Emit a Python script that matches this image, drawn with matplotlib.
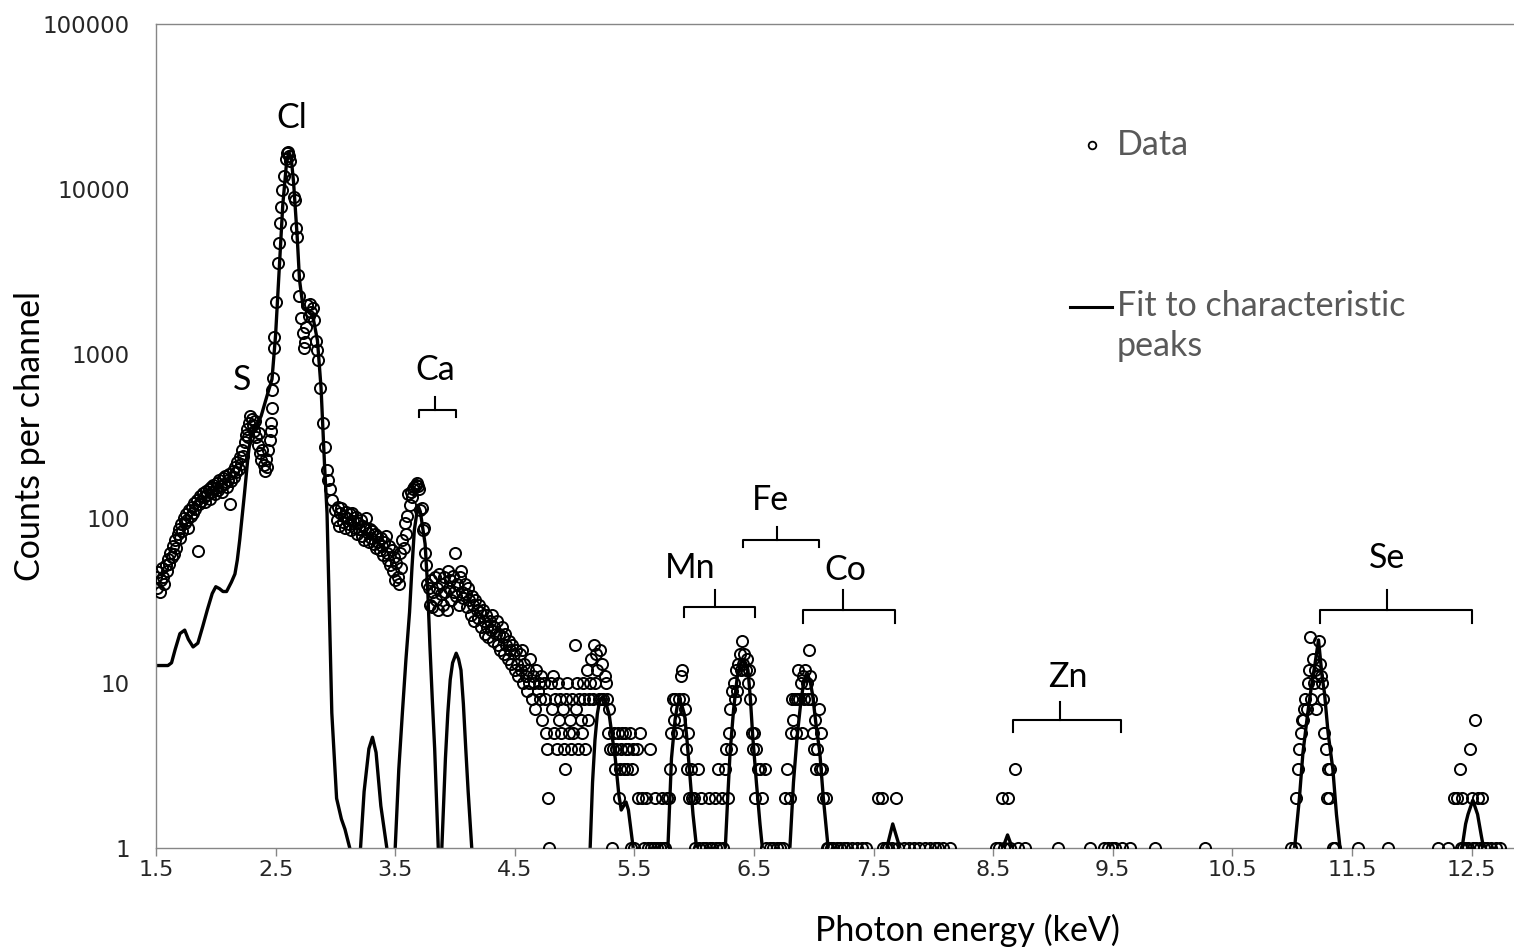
import numpy as np
import matplotlib.pyplot as plt
import matplotlib.transforms as mtransforms

# ---- measured spectrum (open circles) ----
# low-energy background + S peak, 10 eV channels
e_low = [1.50, 1.51, 1.52, 1.53, 1.54, 1.55, 1.56, 1.57, 1.58, 1.59,
         1.60, 1.61, 1.62, 1.63, 1.64, 1.65, 1.66, 1.67, 1.68, 1.69,
         1.70, 1.71, 1.72, 1.73, 1.74, 1.75, 1.76, 1.77, 1.78, 1.79,
         1.80, 1.81, 1.82, 1.83, 1.84, 1.85, 1.86, 1.87, 1.88, 1.89,
         1.90, 1.91, 1.92, 1.93, 1.94, 1.95, 1.96, 1.97, 1.98, 1.99,
         2.00, 2.01, 2.02, 2.03, 2.04, 2.05, 2.06, 2.07, 2.08, 2.09,
         2.10, 2.11, 2.12, 2.13, 2.14, 2.15, 2.16, 2.17, 2.18, 2.19,
         2.20, 2.21, 2.22, 2.23, 2.24, 2.25, 2.26, 2.27, 2.28, 2.29,
         2.30, 2.31, 2.32, 2.33, 2.34, 2.35, 2.36, 2.37, 2.38, 2.39,
         2.40, 2.41, 2.42, 2.43, 2.44]
c_low = [44, 38, 47, 36, 42, 50, 44, 40, 52, 48,
         57, 53, 62, 58, 68, 61, 74, 66, 80, 86,
         76, 92, 84, 100, 94, 106, 98, 88, 112, 104,
         118, 108, 124, 114, 130, 63, 122, 136, 128, 142,
         134, 126, 146, 138, 150, 132, 155, 144, 160, 140,
         152, 165, 148, 170, 158, 145, 175, 162, 180, 155,
         170, 185, 122, 168, 195, 178, 205, 190, 220, 200,
         235, 215, 260, 240, 290, 320, 350, 310, 380, 420,
         400, 370, 340, 390, 310, 280, 330, 250, 225, 260,
         210, 195, 230, 205, 260]

# Cl peak and its shoulder
e_cl = [2.452, 2.458, 2.464, 2.468, 2.472, 2.476, 2.486, 2.490, 2.506, 2.522,
        2.530, 2.540, 2.548, 2.556, 2.572, 2.586, 2.596, 2.604, 2.612, 2.620,
        2.636, 2.652, 2.662, 2.670, 2.678, 2.688, 2.698, 2.712, 2.726, 2.738,
        2.746, 2.756, 2.766, 2.776, 2.790, 2.800, 2.812, 2.822, 2.834, 2.846,
        2.858, 2.874, 2.900, 2.916, 2.930, 2.942, 2.956, 2.968]
c_cl = [300, 340, 380, 470, 600, 710, 1080, 1260, 2050, 3570,
        4700, 6200, 7800, 9900, 12000, 15200, 16400, 16800, 15800, 14800,
        11500, 8900, 8600, 5800, 5100, 3000, 2250, 1640, 1330, 1080,
        1170, 1450, 1970, 1680, 2000, 1790, 1880, 1600, 1200, 1050,
        910, 620, 380, 270, 196, 170, 150, 130]

# background between Cl and Ca
e_mid = [3.00, 3.01, 3.02, 3.03, 3.04, 3.05, 3.06, 3.07, 3.08, 3.09,
         3.10, 3.11, 3.12, 3.13, 3.14, 3.15, 3.16, 3.17, 3.18, 3.19,
         3.20, 3.21, 3.22, 3.23, 3.24, 3.25, 3.26, 3.27, 3.28, 3.29,
         3.30, 3.31, 3.32, 3.33, 3.34, 3.35, 3.36, 3.37, 3.38, 3.39,
         3.40, 3.41, 3.42, 3.43, 3.44, 3.45, 3.46, 3.47, 3.48, 3.49,
         3.50, 3.51, 3.52, 3.53, 3.54, 3.55]
c_mid = [112, 98, 118, 90, 108, 115, 95, 104, 88, 110,
         100, 92, 106, 85, 108, 96, 88, 102, 80, 94,
         86, 98, 78, 90, 74, 88, 100, 82, 72, 86,
         76, 84, 70, 80, 66, 78, 72, 64, 76, 68,
         60, 72, 78, 62, 56, 68, 52, 64, 48, 58,
         42, 54, 44, 40, 62, 50]

# Ca peak
e_ca = [3.56, 3.57, 3.58, 3.59, 3.60, 3.61, 3.62, 3.63, 3.64, 3.65,
        3.66, 3.67, 3.68, 3.69, 3.70, 3.71, 3.72, 3.73, 3.74, 3.75,
        3.76, 3.77, 3.78]
c_ca = [74, 66, 94, 80, 103, 141, 120, 145, 135, 150,
        155, 160, 163, 158, 150, 112, 115, 85, 88, 62,
        52, 40, 38]

# falling background after Ca
e_tail = [3.79, 3.80, 3.81, 3.82, 3.83, 3.84, 3.85, 3.86, 3.87, 3.88,
          3.89, 3.90, 3.91, 3.92, 3.93, 3.94, 3.95, 3.96, 3.97, 3.98,
          3.99, 4.00, 4.01, 4.02, 4.03, 4.04, 4.05, 4.06, 4.07, 4.08,
          4.09, 4.10, 4.11, 4.12, 4.13, 4.14, 4.15, 4.16, 4.17, 4.18,
          4.19, 4.20, 4.21, 4.22, 4.23, 4.24, 4.25, 4.26, 4.27, 4.28,
          4.29, 4.30, 4.31, 4.32, 4.33, 4.34, 4.35, 4.36, 4.37, 4.38,
          4.39, 4.40, 4.41, 4.42, 4.43, 4.44, 4.45, 4.46, 4.47, 4.48,
          4.49, 4.50]
c_tail = [30, 42, 29, 36, 44, 32, 38, 28, 46, 35,
          40, 30, 44, 36, 28, 48, 38, 42, 32, 45,
          36, 62, 34, 40, 30, 44, 48, 36, 33, 40,
          35, 29, 38, 32, 26, 34, 30, 24, 32, 28,
          25, 30, 27, 22, 28, 24, 20, 26, 22, 19,
          24, 21, 26, 18, 22, 20, 24, 17, 20, 16,
          22, 19, 15, 20, 17, 14, 18, 16, 13, 17,
          15, 12]

# low counts 4.5 - 5.3 keV
e_ti = [4.51, 4.52, 4.53, 4.54, 4.55, 4.56, 4.57, 4.58, 4.59, 4.60,
        4.61, 4.62, 4.63, 4.64, 4.65, 4.66, 4.67, 4.68, 4.69, 4.70,
        4.71, 4.72, 4.73, 4.74, 4.75, 4.76, 4.77, 4.78, 4.79, 4.80,
        4.81, 4.82, 4.83, 4.84, 4.85, 4.86, 4.87, 4.88, 4.89, 4.90,
        4.91, 4.92, 4.93, 4.94, 4.95, 4.96, 4.97, 4.98, 4.99, 5.00,
        5.01, 5.02, 5.03, 5.04, 5.05, 5.06, 5.07, 5.08, 5.09, 5.10,
        5.11, 5.12, 5.13, 5.14, 5.15, 5.16, 5.17, 5.18, 5.19, 5.20,
        5.21, 5.22, 5.23, 5.24, 5.25, 5.26, 5.27, 5.28, 5.29, 5.30]
c_ti = [16, 13, 11, 15, 12, 16, 10, 13, 11, 9,
        12, 10, 14, 8, 11, 10, 7, 12, 9, 10,
        8, 11, 6, 10, 8, 5, 4, 2, 1, 10,
        7, 11, 5, 8, 4, 10, 6, 8, 5, 7,
        4, 3, 8, 10, 5, 6, 4, 8, 5, 17,
        7, 10, 4, 8, 6, 5, 10, 8, 4, 12,
        6, 8, 10, 14, 8, 17, 10, 15, 12, 8,
        16, 8, 13, 8, 11, 10, 8, 5, 7, 4]

# Mn, Fe, Co region
e_tm = [5.31, 5.32, 5.33, 5.34, 5.35, 5.36, 5.37, 5.38, 5.39, 5.40,
        5.41, 5.42, 5.43, 5.44, 5.45, 5.46, 5.47, 5.48, 5.49, 5.50,
        5.52, 5.53, 5.55, 5.56, 5.58, 5.60, 5.61, 5.63, 5.64, 5.66,
        5.67, 5.69, 5.71, 5.73, 5.74, 5.76, 5.77,
        5.79, 5.80, 5.81, 5.82, 5.83, 5.84, 5.85, 5.86, 5.87, 5.88,
        5.89, 5.90, 5.91, 5.92, 5.93, 5.94, 5.95, 5.96, 5.97, 5.98,
        6.00, 6.01, 6.03, 6.04, 6.06, 6.07, 6.10, 6.12, 6.13, 6.15,
        6.17, 6.18, 6.20, 6.21, 6.23, 6.24, 6.26,
        6.27, 6.28, 6.29, 6.30, 6.31, 6.32, 6.33, 6.34, 6.35, 6.36,
        6.37, 6.38, 6.39, 6.40, 6.41, 6.42, 6.43, 6.44, 6.45, 6.46,
        6.47, 6.48, 6.49, 6.50, 6.51, 6.52, 6.53, 6.55, 6.57, 6.59,
        6.60, 6.63, 6.66, 6.69, 6.72, 6.74, 6.76, 6.78, 6.80,
        6.81, 6.82, 6.83, 6.84, 6.85, 6.86, 6.87, 6.88, 6.89, 6.90,
        6.91, 6.92, 6.93, 6.94, 6.95, 6.96, 6.97, 6.98, 6.99, 7.00,
        7.01, 7.02, 7.03, 7.04, 7.05, 7.06, 7.07, 7.08, 7.10, 7.11]
c_tm = [1, 4, 5, 3, 4, 5, 2, 3, 4, 5,
        3, 5, 4, 3, 4, 5, 1, 3, 4, 1,
        4, 2, 5, 2, 1, 2, 1, 4, 1, 1,
        2, 1, 1, 2, 1, 1, 2,
        2, 3, 5, 8, 6, 8, 7, 5, 8, 6,
        11, 12, 8, 7, 4, 3, 5, 2, 3, 2,
        2, 1, 3, 1, 2, 1, 1, 2, 1, 1,
        2, 1, 3, 1, 2, 1, 3,
        4, 2, 5, 7, 4, 9, 10, 8, 12, 9,
        13, 15, 12, 18, 13, 15, 12, 14, 10, 12,
        8, 5, 4, 5, 2, 4, 3, 3, 2, 3,
        1, 1, 1, 1, 1, 1, 2, 3, 2,
        5, 8, 6, 8, 5, 8, 12, 8, 10, 5,
        11, 8, 12, 10, 8, 16, 11, 8, 5, 4,
        6, 3, 4, 7, 3, 5, 3, 2, 2, 1]

# sparse high-energy channels (Zn, Se)
e_hi = [7.12, 7.14, 7.16, 7.19, 7.22, 7.25, 7.28, 7.32, 7.36, 7.40, 7.44,
        7.54, 7.57, 7.58, 7.60, 7.62, 7.65, 7.69, 7.70, 7.75, 7.80,
        7.84, 7.88, 7.93, 7.97, 8.01, 8.04, 8.08, 8.14,
        8.52, 8.55, 8.57, 8.59, 8.62, 8.64, 8.68, 8.71, 8.77, 9.04,
        9.31, 9.43, 9.46, 9.49, 9.52, 9.58, 9.64, 9.85, 10.27,
        10.99, 11.02, 11.03, 11.05, 11.06, 11.07, 11.08, 11.09, 11.10, 11.11,
        11.12, 11.13, 11.14, 11.15, 11.16, 11.17, 11.18, 11.19, 11.20, 11.21,
        11.22, 11.23, 11.24, 11.25, 11.26, 11.27, 11.28, 11.29, 11.30, 11.31,
        11.32, 11.34, 11.36, 11.55, 11.80,
        12.22, 12.30, 12.35, 12.38, 12.40, 12.41, 12.42, 12.43, 12.45, 12.47,
        12.49, 12.50, 12.51, 12.53, 12.54, 12.55, 12.57, 12.59, 12.60, 12.63,
        12.66, 12.70, 12.74]
c_hi = [1, 1, 1, 1, 1, 1, 1, 1, 1, 1, 1,
        2, 2, 1, 1, 1, 1, 2, 1, 1, 1,
        1, 1, 1, 1, 1, 1, 1, 1,
        1, 1, 2, 1, 2, 1, 3, 1, 1, 1,
        1, 1, 1, 1, 1, 1, 1, 1, 1,
        1, 1, 2, 3, 4, 5, 6, 6, 7, 8,
        7, 10, 12, 19, 8, 14, 10, 12, 7, 11,
        18, 13, 11, 10, 8, 5, 4, 2, 3, 2,
        3, 1, 1, 1, 1,
        1, 1, 2, 2, 3, 1, 2, 1, 1, 1,
        4, 2, 1, 6, 1, 2, 1, 2, 1, 1,
        1, 1, 1]

# ---- fit to characteristic peaks (solid line) ----
fit_e = [1.50, 1.60, 1.63, 1.66, 1.70, 1.74, 1.77, 1.81, 1.85, 1.89,
         1.93, 1.97, 2.00, 2.03, 2.06, 2.09, 2.13, 2.16, 2.18, 2.20,
         2.24, 2.27, 2.29, 2.31, 2.34, 2.38, 2.43, 2.47, 2.50, 2.53,
         2.56, 2.59, 2.61, 2.63, 2.65, 2.68, 2.70, 2.73, 2.77, 2.81,
         2.85, 2.88, 2.91, 2.93, 2.95, 2.97, 3.01, 3.05, 3.08, 3.12,
         3.14, 3.18, 3.21, 3.24, 3.28, 3.31, 3.34, 3.38, 3.43, 3.45,
         3.48, 3.50, 3.53, 3.56, 3.59, 3.62, 3.64, 3.66, 3.69, 3.71,
         3.73, 3.75, 3.77, 3.79, 3.81, 3.83, 3.86, 3.87, 3.88, 3.89,
         3.92, 3.94, 3.96, 3.98, 4.01, 4.03, 4.05, 4.07, 4.09, 4.11,
         4.14, 4.15, 5.11, 5.13, 5.15, 5.17, 5.19, 5.21, 5.23, 5.25,
         5.27, 5.29, 5.31, 5.34, 5.37, 5.39, 5.41, 5.43, 5.45, 5.47,
         5.49, 5.50, 5.77, 5.78, 5.81, 5.84, 5.86, 5.88, 5.90, 5.92,
         5.94, 5.96, 5.99, 6.02, 6.03, 6.25, 6.26, 6.28, 6.30, 6.33,
         6.36, 6.39, 6.41, 6.43, 6.45, 6.47, 6.49, 6.52, 6.55, 6.57,
         6.58, 6.79, 6.80, 6.83, 6.86, 6.89, 6.91, 6.93, 6.95, 6.97,
         6.99, 7.02, 7.05, 7.08, 7.12, 7.13, 7.60, 7.61, 7.66, 7.72,
         7.73, 8.57, 8.58, 8.62, 8.66, 8.67, 11.01, 11.02, 11.06, 11.09,
         11.13, 11.16, 11.19, 11.22, 11.25, 11.27, 11.30, 11.34, 11.37, 11.40,
         11.41, 12.41, 12.42, 12.45, 12.47, 12.51, 12.55, 12.58, 12.60, 12.61]
fit_c = [12.8, 12.8, 13.3, 16, 20, 21, 18.5, 16.6, 17.5, 22,
         28, 35, 38.5, 37.5, 36, 36, 41, 46, 56, 74,
         142, 240, 310, 340, 360, 420, 560, 700, 1300, 3200,
         8000, 14000, 16800, 15500, 11000, 5200, 2800, 1900, 1800, 1700,
         1200, 620, 205, 108, 27, 6.6, 2, 1.5, 1.3, 1,
         0.4, 0.4, 1, 2.2, 4, 4.7, 3.8, 1.8, 1, 0.4,
         0.4, 1, 3, 6.6, 14, 27, 50, 85, 120, 110,
         88, 70, 40, 17, 8, 4, 1, 0.4, 0.4, 1,
         3.5, 6.6, 10.5, 13.3, 15.2, 14, 12, 7.5, 4, 2.2,
         1, 0.4, 0.4, 1, 2.5, 4.5, 6.5, 7.9, 8.2, 7.9,
         7.2, 6.4, 5, 3.5, 2.1, 1.7, 1.8, 1.9, 1.7, 1.3,
         1, 0.4, 0.4, 1, 3.5, 6, 7.4, 7.9, 7.2, 6.4,
         4.5, 3, 1.6, 1, 0.4, 0.4, 1, 2, 3.8, 7,
         10.9, 13.3, 13.8, 13.3, 12, 8, 4.7, 2.5, 1.4, 1,
         0.4, 0.4, 1, 2.5, 4.7, 7.5, 9.5, 11, 11.2, 10.2,
         8.5, 5.5, 3.8, 2, 1, 0.4, 0.4, 1, 1.4, 1,
         0.4, 0.4, 1, 1.2, 1, 0.4, 0.4, 1, 2, 3.8,
         6.6, 9.5, 13, 18.3, 11, 8.7, 5, 3, 1.6, 1,
         0.4, 0.4, 1, 1.4, 1.6, 1.95, 1.6, 1.2, 1, 0.4]

# element annotations: label, bracket start, bracket end, centre tick (keV)
brackets = [('Ca', 3.70, 4.01, 3.833),
            ('Mn', 5.915, 6.508, 6.174),
            ('Fe', 6.408, 7.044, 6.692),
            ('Co', 6.910, 7.679, 7.244),
            ('Zn', 8.666, 9.569, 9.059),
            ('Se', 11.232, 12.503, 11.793)]

x_ticks = [1.5, 2.5, 3.5, 4.5, 5.5, 6.5, 7.5, 8.5, 9.5, 10.5, 11.5, 12.5]
y_ticks = [1, 10, 100, 1000, 10000, 100000]

data_e = np.concatenate([e_low, e_cl, e_mid, e_ca, e_tail, e_ti, e_tm, e_hi])
data_c = np.concatenate([c_low, c_cl, c_mid, c_ca, c_tail, c_ti, c_tm, c_hi])

LABEL_FONT = 'Lato'
GRAY = '#868686'

fig = plt.figure(figsize=(15.14, 9.48), dpi=100)
ax = fig.add_axes([156 / 1514, 100 / 948, 1358 / 1514, 824 / 948])

ax.plot(fit_e, fit_c, color='black', lw=2.4, zorder=2)
ax.plot(data_e, data_c, 'o', mfc='none', mec='black', ms=8, mew=1.4, zorder=3)

ax.set_yscale('log')
ax.set_xlim(1.5, 1.5 + 1358 / 119.6)
ax.set_ylim(1, 100000)

ax.set_xticks(x_ticks)
ax.set_xticklabels([f'{v:.1f}' for v in x_ticks])
ax.set_yticks(y_ticks)
ax.set_yticklabels([str(v) for v in y_ticks])
ax.yaxis.set_minor_locator(plt.NullLocator())
ax.tick_params(axis='x', direction='out', length=6, width=1, color=GRAY,
               labelsize=16, labelcolor='#262626', pad=3)
ax.tick_params(axis='y', length=0, labelsize=16.5, labelcolor='#262626', pad=19)
for lab in ax.get_xticklabels() + ax.get_yticklabels():
    lab.set_family('DejaVu Sans')

for side in ['left', 'bottom', 'top']:
    ax.spines[side].set_color(GRAY)
    ax.spines[side].set_linewidth(1.0)
ax.spines['right'].set_visible(False)

ax.set_ylabel('Counts per channel', fontsize=24.5, family=LABEL_FONT)
ax.yaxis.set_label_coords((30 - 156) / 1358, 0.5)
ax.yaxis.label.set_va('center')
ax.set_xlabel('Photon energy (keV)', fontsize=24.5, family=LABEL_FONT)
ax.xaxis.set_label_coords((967 - 156) / 1358, -82 / 824)
ax.xaxis.label.set_va('center')

# element labels and brackets (x in keV, y in axes fraction)
trans = mtransforms.blended_transform_factory(ax.transData, ax.transAxes)
label_y = {'Ca': 0.580, 'Mn': 0.340, 'Fe': 0.422, 'Co': 0.337, 'Zn': 0.2075, 'Se': 0.352}
label_x = {'Ca': 3.833, 'Mn': 5.965, 'Fe': 6.634, 'Co': 7.261, 'Zn': 9.125, 'Se': 11.793}
bracket_y = {'Ca': (0.5316, 0.5231, 0.5473), 'Mn': (0.2925, 0.2803, 0.3131),
             'Fe': (0.3738, 0.3653, 0.3896), 'Co': (0.2888, 0.2731, 0.3131),
             'Zn': (0.1553, 0.1408, 0.1772), 'Se': (0.2888, 0.2731, 0.3131)}
for name, x0, x1, xc in brackets:
    yh, ye, yt = bracket_y[name]
    ax.plot([x0, x0, x1, x1], [ye, yh, yh, ye], color='black', lw=1.5,
            transform=trans, clip_on=False)
    ax.plot([xc, xc], [yh, yt], color='black', lw=1.5, transform=trans, clip_on=False)
    ax.text(label_x[name], label_y[name], name, transform=trans, ha='center',
            va='center', fontsize=24.5, family=LABEL_FONT)
ax.text(2.219, 0.568, 'S', transform=trans, ha='center', va='center',
        fontsize=24.5, family=LABEL_FONT)
ax.text(2.637, 0.886, 'Cl', transform=trans, ha='center', va='center',
        fontsize=24.5, family=LABEL_FONT)

# legend drawn by hand
ax.plot([0.6893], [0.8532], 'o', mfc='none', mec='black', ms=5.5, mew=1.3,
        transform=ax.transAxes, clip_on=False)
ax.text(0.7077, 0.8532, 'Data', transform=ax.transAxes, ha='left', va='center',
        fontsize=24.5, family=LABEL_FONT, color='#595959')
ax.plot([0.6731, 0.7040], [0.6566, 0.6566], color='black', lw=2.2,
        transform=ax.transAxes, clip_on=False)
ax.text(0.7077, 0.6772, 'Fit to characteristic\npeaks', transform=ax.transAxes,
        ha='left', va='top', fontsize=24.5, family=LABEL_FONT, color='#595959',
        linespacing=1.3)

fig.savefig('out.png', dpi=100)
